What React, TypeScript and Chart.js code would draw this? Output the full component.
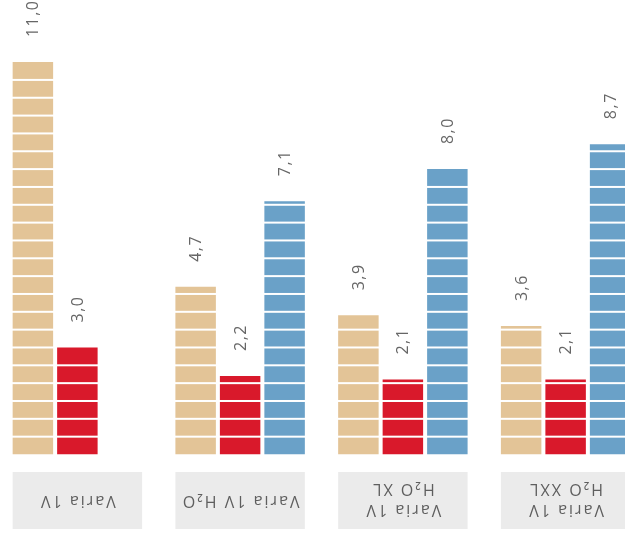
import React, { useEffect, useRef } from "react";
import { Chart, registerables } from "chart.js";

Chart.register(...registerables);

const categories: string[][] = [
  ["Varia 1V"],
  ["Varia 1V H₂O"],
  ["Varia 1V", "H₂O XL"],
  ["Varia 1V", "H₂O XXL"],
];
const seriesNames = ["Serie 1", "Serie 2", "Serie 3"];
const tanValues: (number | null)[] = [11.0, 4.7, 3.9, 3.6];
const redValues: (number | null)[] = [3.0, 2.2, 2.1, 2.1];
const blueValues: (number | null)[] = [null, 7.1, 8.0, 8.7];

const seriesColors = ["#e3c497", "#d9192b", "#6aa1c8"];
const segmentStep = 0.5;
const yMax = 12.74;

const FONT = "'Open Sans', 'Noto Sans', sans-serif";

const decorPlugin = {
  id: "decor",
  afterDatasetsDraw(chart: any) {
    const ctx: CanvasRenderingContext2D = chart.ctx;
    const y = chart.scales.y;
    ctx.save();
    chart.data.datasets.forEach((ds: any, di: number) => {
      const meta = chart.getDatasetMeta(di);
      meta.data.forEach((el: any, i: number) => {
        const v = ds.data[i];
        if (v == null) return;
        const left = el.x - el.width / 2;
        ctx.fillStyle = "#ffffff";
        for (let s = segmentStep; s < v - 1e-6; s += segmentStep) {
          const py = y.getPixelForValue(s);
          ctx.fillRect(left - 1, py - 1, el.width + 2, 2);
        }
        ctx.save();
        ctx.translate(el.x + 1, el.y - 25);
        ctx.rotate(-Math.PI / 2);
        ctx.font = `16px ${FONT}`;
        (ctx as any).letterSpacing = "1.5px";
        ctx.fillStyle = "#666666";
        ctx.textAlign = "left";
        ctx.textBaseline = "middle";
        ctx.fillText(v.toFixed(1).replace(".", ","), 0, 0);
        ctx.restore();
      });
    });

    const meta0 = chart.getDatasetMeta(0);
    const meta1 = chart.getDatasetMeta(1);
    categories.forEach((lines, i) => {
      const e0 = meta0.data[i];
      const e1 = meta1.data[i];
      const slot = e1.x - e0.x;
      const left = e0.x - e0.width / 2;
      const right = e0.x + 2 * slot + e0.width / 2;
      const top = y.bottom + 17.5;
      const h = 57;
      ctx.fillStyle = "#ebebeb";
      ctx.fillRect(left, top, right - left, h);
      ctx.save();
      const n = lines.length;
      ctx.translate((left + right) / 2, top + (n === 1 ? 29 : 27));
      ctx.rotate(Math.PI);
      ctx.font = `16px ${FONT}`;
      (ctx as any).letterSpacing = "2px";
      ctx.fillStyle = "#5e5e5e";
      ctx.textAlign = "center";
      ctx.textBaseline = "middle";
      const lh = 21.5;
      lines.forEach((t, k) => {
        ctx.fillText(t, 0, (k - (n - 1) / 2) * lh);
      });
      ctx.restore();
    });
    ctx.restore();
  },
};

export default function App() {
  const ref = useRef<HTMLCanvasElement | null>(null);
  useEffect(() => {
    if (!ref.current) return;
    const chart = new Chart(ref.current, {
      type: "bar",
      data: {
        labels: categories.map((c) => c.join(" ")),
        datasets: [tanValues, redValues, blueValues].map((d, i) => ({
          label: seriesNames[i],
          data: d,
          backgroundColor: seriesColors[i],
          borderWidth: 0,
          barPercentage: 0.91,
          categoryPercentage: 0.82,
        })),
      },
      options: {
        responsive: false,
        animation: false,
        devicePixelRatio: 1,
        layout: { padding: { left: 0, right: 0, top: 0, bottom: 84.5 } },
        plugins: {
          legend: { display: false },
          tooltip: { enabled: false },
        },
        scales: {
          x: { display: false, grid: { display: false } },
          y: { display: false, min: 0, max: yMax, grid: { display: false } },
        },
      },
      plugins: [decorPlugin],
    } as any);
    return () => chart.destroy();
  }, []);
  return (
    <div
      style={{
        position: "fixed",
        left: 0,
        top: 0,
        width: 625,
        height: 539,
        overflow: "hidden",
        background: "#ffffff",
      }}
    >
      <canvas
        ref={ref}
        width={651}
        height={539}
        style={{ position: "absolute", left: -4, top: 0, width: 651, height: 539 }}
      />
    </div>
  );
}
